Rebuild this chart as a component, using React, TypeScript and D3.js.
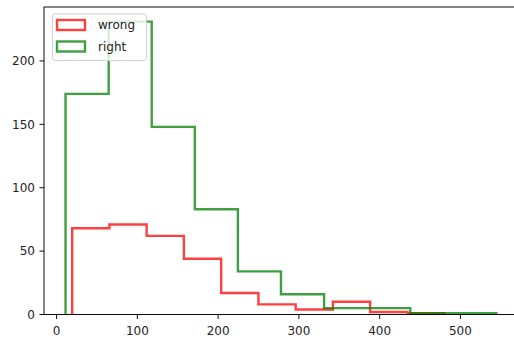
import React, { useEffect, useRef } from "react";
import * as d3 from "d3";

// bin edges and counts
const wrongEdges = [19.3, 65.4, 111.5, 157.6, 203.8, 249.9, 296.0, 342.1, 388.2, 434.4, 480.5];
const wrongCounts = [68, 71, 62, 44, 17, 8, 4, 10, 2, 1];
const rightEdges = [11.1, 64.5, 117.8, 171.2, 224.5, 277.8, 331.2, 384.5, 437.9, 491.2, 544.6];
const rightCounts = [174, 231, 148, 83, 34, 16, 5, 5, 1, 1];
const xTicks = [0, 100, 200, 300, 400, 500];
const yTicks = [0, 50, 100, 150, 200];
const seriesNames = ["wrong", "right"];

const W = 514;
const H = 343;
const box = { left: 44, right: 518, top: 7, bottom: 314.5 };
const font = "DejaVu Sans, sans-serif";

function stepPoints(edges: number[], counts: number[]): [number, number][] {
  const pts: [number, number][] = [[edges[0], 0]];
  counts.forEach((c, i) => {
    pts.push([edges[i], c]);
    pts.push([edges[i + 1], c]);
  });
  pts.push([edges[edges.length - 1], 0]);
  return pts;
}

export default function App() {
  const ref = useRef<SVGSVGElement>(null);

  useEffect(() => {
    const svg = d3.select(ref.current);
    svg.selectAll("*").remove();

    const xmin = Math.min(wrongEdges[0], rightEdges[0]);
    const xmax = Math.max(wrongEdges[wrongEdges.length - 1], rightEdges[rightEdges.length - 1]);
    const pad = (xmax - xmin) * 0.05;
    const ymax = Math.max(...wrongCounts, ...rightCounts) * 1.05;

    const x = d3.scaleLinear().domain([xmin - pad, xmax + pad]).range([box.left, box.right]);
    const y = d3.scaleLinear().domain([0, ymax]).range([box.bottom, box.top]);

    const line = d3.line<[number, number]>()
      .x((d) => x(d[0]))
      .y((d) => y(d[1]));

    const series = [
      { name: seriesNames[0], pts: stepPoints(wrongEdges, wrongCounts), color: "red" },
      { name: seriesNames[1], pts: stepPoints(rightEdges, rightCounts), color: "green" },
    ];

    series.forEach((s) => {
      svg.append("path")
        .attr("d", line(s.pts))
        .attr("fill", "none")
        .attr("stroke", s.color)
        .attr("stroke-opacity", 0.75)
        .attr("stroke-width", 2.4)
        .attr("stroke-linejoin", "miter");
    });

    // spines
    svg.append("rect")
      .attr("x", box.left)
      .attr("y", box.top)
      .attr("width", box.right - box.left)
      .attr("height", box.bottom - box.top)
      .attr("fill", "none")
      .attr("stroke", "#000")
      .attr("stroke-width", 0.95);

    // x ticks
    const xg = svg.append("g");
    xTicks.forEach((t) => {
      xg.append("line")
        .attr("x1", x(t)).attr("x2", x(t))
        .attr("y1", box.bottom).attr("y2", box.bottom + 4.5)
        .attr("stroke", "#000").attr("stroke-width", 0.95);
      xg.append("text")
        .attr("x", x(t))
        .attr("y", box.bottom + 20.5)
        .attr("text-anchor", "middle")
        .style("font", "12px " + font)
        .attr("fill", "#222")
        .text(t);
    });

    // y ticks
    const yg = svg.append("g");
    yTicks.forEach((t) => {
      yg.append("line")
        .attr("x1", box.left - 4.5).attr("x2", box.left)
        .attr("y1", y(t)).attr("y2", y(t))
        .attr("stroke", "#000").attr("stroke-width", 0.95);
      yg.append("text")
        .attr("x", box.left - 9)
        .attr("y", y(t))
        .attr("dy", "0.36em")
        .attr("text-anchor", "end")
        .style("font", "12px " + font)
        .attr("fill", "#222")
        .text(t);
    });

    // legend
    const lg = svg.append("g");
    lg.append("rect")
      .attr("x", 52.5).attr("y", 14)
      .attr("width", 94).attr("height", 46.5)
      .attr("rx", 2.5)
      .attr("fill", "white").attr("fill-opacity", 0.8)
      .attr("stroke", "#d0d0d0").attr("stroke-width", 0.95);
    series.forEach((s, i) => {
      const cy = 25 + i * 21.5;
      lg.append("rect")
        .attr("x", 57).attr("y", cy - 5)
        .attr("width", 28).attr("height", 10)
        .attr("fill", "none")
        .attr("stroke", s.color)
        .attr("stroke-opacity", 0.75)
        .attr("stroke-width", 2.4);
      lg.append("text")
        .attr("x", 98)
        .attr("y", cy)
        .attr("dy", "0.36em")
        .style("font", "12px " + font)
        .attr("fill", "#222")
        .text(s.name);
    });
  }, []);

  return (
    <svg
      ref={ref}
      width={W}
      height={H}
      style={{ position: "absolute", left: 0, top: 0, background: "white" }}
    />
  );
}
